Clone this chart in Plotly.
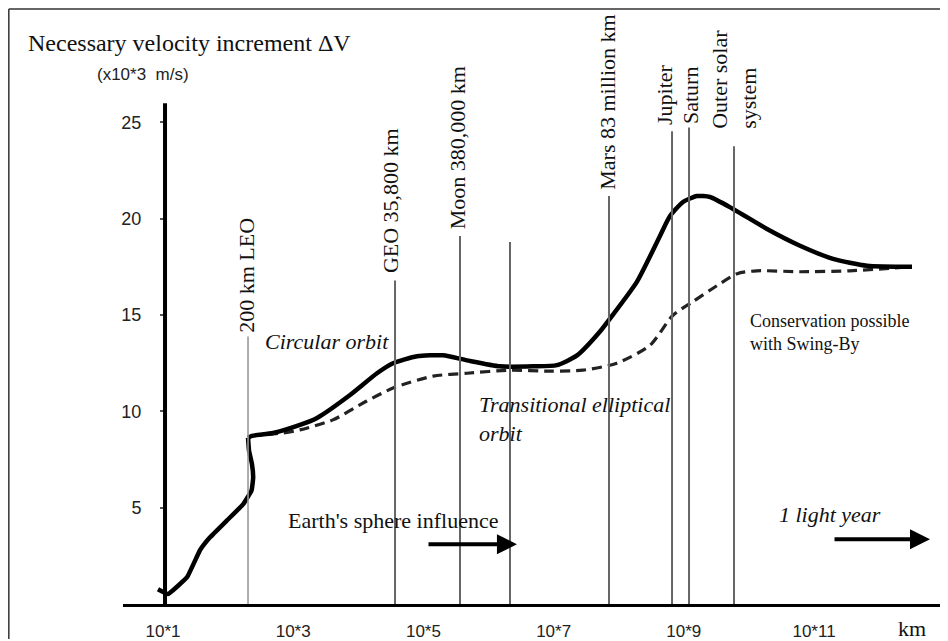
import plotly.graph_objects as go

# ---------------- data (x = log10 of distance in km, y = delta-V in 10^3 m/s) -------------
# solid curve, part 1: launch up to low Earth orbit
solid_a_log_km = [0.923, 1.077, 1.369, 1.568, 1.722, 1.983, 2.229, 2.360, 2.385, 2.365, 2.322,
                  2.306]
solid_a_dv = [0.77, 0.52, 1.39, 2.79, 3.46, 4.34, 5.17, 5.89, 6.56, 7.30, 7.95,
              8.63]
# solid curve, part 2: circular orbit beyond LEO
solid_b_log_km = [2.306, 2.367, 2.690, 3.104, 3.366, 3.873, 4.287, 4.533, 4.902, 5.301, 5.670,
                  6.177, 6.684, 7.052, 7.360, 7.713, 7.866, 8.281, 8.634, 8.788, 8.988, 9.203,
                  9.402, 9.756, 10.278, 10.785, 11.292, 11.814, 12.505]
solid_b_dv = [8.63, 8.73, 8.88, 9.30, 9.66, 10.85, 11.98, 12.50, 12.86, 12.91, 12.65,
              12.34, 12.34, 12.40, 12.91, 14.15, 14.82, 16.74, 19.11, 20.14, 20.87, 21.18,
              21.13, 20.51, 19.47, 18.60, 17.92, 17.56, 17.51]

dashed_log_km = [2.367, 2.843, 3.104, 3.610, 4.130, 4.533, 5.150, 5.670, 6.330, 6.940,
                 7.450, 7.970, 8.480, 8.830, 9.140, 9.510, 9.820, 10.120, 10.785, 11.550, 12.505]
dashed_dv = [8.73, 8.88, 9.04, 9.56, 10.54, 11.21, 11.83, 11.98, 12.14, 12.09,
             12.14, 12.50, 13.43, 14.98, 15.70, 16.53, 17.15, 17.30, 17.25, 17.30, 17.51]

x_tick_vals = [1, 3, 5, 7, 9, 11]
x_tick_text = ["10*1", "10*3", "10*5", "10*7", "10*9", "10*11"]
y_tick_vals = [5, 10, 15, 20, 25]

marker_names = ["200 km LEO", "GEO 35,800 km", "Moon 380,000 km", "",
                "Mars 83 million km", "Jupiter", "Saturn", "Outer solar<br>system"]
marker_log_km = [2.306, 4.564, 5.562, 6.330, 7.851, 8.819, 9.080, 9.771]
marker_top = [13.89, 16.79, 19.11, 18.80, 21.18, 24.54, 24.74, 23.76]
label_log_km = [2.29, 4.487, 5.516, None, 7.836, 8.711, 9.095, 9.771]
label_bottom = [14.0, 17.05, 19.32, None, 21.38, 24.74, 24.79, 24.54]

SERIF = "Liberation Serif, Times New Roman, serif"
SANS = "Liberation Sans, Arial, sans-serif"

fig = go.Figure()

fig.add_trace(go.Scatter(x=dashed_log_km, y=dashed_dv, mode="lines",
                         line=dict(color="#222", width=3.2, dash="10px,6px",
                                   shape="spline", smoothing=0.7),
                         hoverinfo="skip", showlegend=False))
fig.add_trace(go.Scatter(x=solid_a_log_km, y=solid_a_dv, mode="lines",
                         line=dict(color="#000", width=4.5, shape="spline", smoothing=0.3),
                         hoverinfo="skip", showlegend=False))
fig.add_trace(go.Scatter(x=solid_b_log_km, y=solid_b_dv, mode="lines",
                         line=dict(color="#000", width=4.5, shape="spline", smoothing=0.6),
                         hoverinfo="skip", showlegend=False))

shapes = []
# vertical reference lines
for i, (mx, mt) in enumerate(zip(marker_log_km, marker_top)):
    shapes.append(dict(type="line", xref="x", yref="y", x0=mx, x1=mx, y0=0, y1=mt,
                       line=dict(color="#999" if i == 0 else "#666", width=1.6 if i == 0 else 2)))
# y axis line
shapes.append(dict(type="line", xref="x", yref="y", x0=1.031, x1=1.031, y0=0, y1=26.0,
                   line=dict(color="#000", width=4)))
# frame (left and top)
shapes.append(dict(type="line", xref="paper", yref="paper", x0=-0.1384, x1=-0.1384,
                   y0=-0.06, y1=1.0187, line=dict(color="#333", width=1.5)))
shapes.append(dict(type="line", xref="paper", yref="paper", x0=-0.1384, x1=1.0,
                   y0=1.0187, y1=1.0187, line=dict(color="#333", width=1.5)))

annotations = []
for name, lx, lb in zip(marker_names, label_log_km, label_bottom):
    if not name:
        continue
    annotations.append(dict(x=lx, y=lb, xref="x", yref="y", text=name, textangle=-90,
                            showarrow=False, xanchor="center", yanchor="bottom", align="left",
                            font=dict(family=SERIF, size=22, color="#111")))

annotations += [
    dict(x=-0.1176, y=0.9608, xref="paper", yref="paper", xanchor="left", yanchor="middle",
         text="Necessary velocity increment ΔV", showarrow=False,
         font=dict(family=SERIF, size=24, color="#111")),
    dict(x=-0.0339, y=0.9063, xref="paper", yref="paper", xanchor="left", yanchor="middle",
         text="(x10*3\u00a0\u00a0m/s)", showarrow=False,
         font=dict(family=SANS, size=17, color="#222")),
    dict(x=12.5, y=-0.0426, xref="x", yref="paper", xanchor="center", yanchor="middle",
         text="km", showarrow=False, font=dict(family=SERIF, size=22, color="#111")),
    dict(x=3.52, y=13.64, xref="x", yref="y", text="<i>Circular orbit</i>", showarrow=False,
         font=dict(family=SERIF, size=22, color="#111")),
    dict(x=5.823, y=9.58, xref="x", yref="y", xanchor="left",
         text="<i>Transitional elliptical<br>orbit</i>", align="left", showarrow=False,
         font=dict(family=SERIF, size=22, color="#111")),
    dict(x=9.987, y=14.10, xref="x", yref="y", xanchor="left",
         text="Conservation possible<br>with Swing-By", align="left", showarrow=False,
         font=dict(family=SERIF, size=18, color="#111")),
    dict(x=4.533, y=4.34, xref="x", yref="y", text="Earth's sphere influence", showarrow=False,
         font=dict(family=SERIF, size=22, color="#111")),
    dict(x=11.245, y=4.65, xref="x", yref="y", text="<i>1 light year</i>", showarrow=False,
         font=dict(family=SERIF, size=22, color="#111")),
    # arrows
    dict(x=6.437, y=3.10, ax=5.055, ay=3.10, xref="x", yref="y", axref="x", ayref="y",
         text="", showarrow=True, arrowhead=2, arrowsize=1, arrowwidth=4, arrowcolor="#000"),
    dict(x=12.782, y=3.36, ax=11.292, ay=3.36, xref="x", yref="y", axref="x", ayref="y",
         text="", showarrow=True, arrowhead=2, arrowsize=1, arrowwidth=4, arrowcolor="#000"),
]

# the page body has an 8px margin, so the figure is 8px smaller on each axis
fig.update_layout(
    width=940, height=633,
    margin=dict(l=115, r=0, t=12, b=34),
    paper_bgcolor="white", plot_bgcolor="white",
    showlegend=False,
    shapes=shapes, annotations=annotations,
    xaxis=dict(range=[0.3856, 13.058], showgrid=False, zeroline=False,
               showline=True, linecolor="#000", linewidth=3,
               tickvals=x_tick_vals, ticktext=x_tick_text, ticks="",
               ticklabelstandoff=10,
               tickfont=dict(family=SANS, size=17, color="#222"), fixedrange=True),
    yaxis=dict(range=[0, 30.32], showgrid=False, zeroline=False, showline=False,
               anchor="free", position=0.0509,
               tickvals=y_tick_vals, ticks="outside", ticklen=5, tickwidth=1.5,
               tickcolor="#555", ticklabelstandoff=15,
               tickfont=dict(family=SANS, size=18, color="#222"), fixedrange=True),
)

fig.write_html("out.html")
